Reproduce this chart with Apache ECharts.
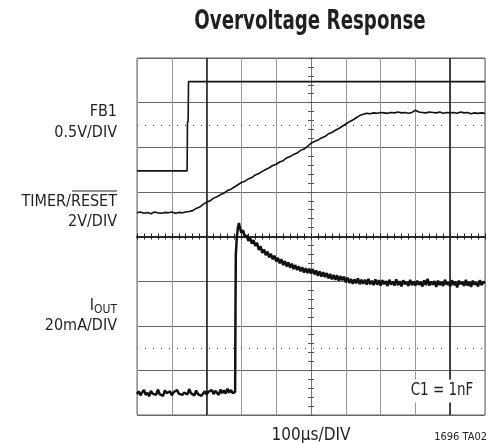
<!DOCTYPE html>
<html>
<head>
<meta charset="utf-8">
<script src="https://cdn.jsdelivr.net/npm/echarts@6/dist/echarts.min.js"></script>
<style>
html,body{margin:0;padding:0;background:#fff;}
#c{width:493px;height:443px;}
</style>
</head>
<body>
<div id="c"></div>
<script>
// Horizontal: microseconds (100us/DIV, 10 divisions). Vertical: screen divisions (0..8).
var xTicks = [0, 100, 200, 300, 400, 500, 600, 700, 800, 900, 1000];
var yTicks = [0, 1, 2, 3, 4, 5, 6, 7, 8];
var cursorX = [200, 900];
var dottedRefY = [6.5, 1.5];

// FB1 trace (0.5V/DIV): [time us, div]
var fb1 = [[0, 5.47], [144, 5.47], [145, 6.55], [147, 6.6], [148, 7.47], [300, 7.47], [301, 7.5], [302, 7.47], [800, 7.47], [801, 7.5], [802, 7.47], [1000, 7.47]];

// TIMER/RESET trace (2V/DIV) sampled every 10us from 0 to 1000
var timerStep = 10;
var timer = [
  4.53,4.55,4.52,4.54,4.51,4.55,4.53,4.52,4.54,4.53,4.55,4.52,4.54,4.53,4.55,4.56,
  4.58,4.63,4.66,4.72,4.77,4.80,4.86,4.89,4.94,4.97,5.03,5.06,5.11,5.16,5.21,5.24,5.29,5.32,5.38,5.41,
  5.46,5.50,5.54,5.59,5.62,5.67,5.70,5.76,5.79,5.84,5.87,5.93,5.96,6.02,6.09,6.13,6.16,6.21,6.24,6.30,
  6.33,6.38,6.42,6.47,6.52,6.57,6.61,6.66,6.71,
  6.74,6.76,6.75,6.77,6.76,6.78,6.77,6.76,6.78,6.77,6.79,6.77,6.78,6.76,6.78,6.83,6.79,6.78,6.77,6.79,
  6.78,6.77,6.79,6.76,6.78,6.77,6.78,6.76,6.79,6.77,6.78,6.75,6.77,6.76,6.77,6.76
];

// IOUT trace (20mA/DIV)
var ioutStep = 5;
var ioutBaseStart = 0;     // 0..280us
var ioutBase = [
  0.47,0.53,0.44,0.51,0.56,0.45,0.50,0.42,0.54,0.48,
  0.52,0.45,0.57,0.47,0.50,0.43,0.55,0.49,0.46,0.53,
  0.44,0.51,0.47,0.56,0.48,0.52,0.45,0.50,0.54,0.46,
  0.58,0.49,0.52,0.44,0.55,0.47,0.51,0.43,0.48,0.53,
  0.46,0.52,0.49,0.56,0.47,0.54,0.50,0.45,0.57,0.49,
  0.55,0.48,0.59,0.50,0.56,0.49,0.53
];
var ioutRise = [[282, 0.52], [283, 2.4], [284, 3.6], [287, 4.0], [290, 4.2], [293, 4.3]];
var ioutDecayStart = 295; // 295..1000us
var ioutDecay = [
  4.22,4.08,4.14,3.98,4.03,3.90,3.97,3.84,3.92,3.79,3.86,
  3.70,3.78,3.63,3.71,3.58,3.66,3.53,3.61,3.49,3.57,
  3.44,3.52,3.40,3.49,3.36,3.45,3.33,3.42,3.30,3.39,
  3.27,3.36,3.25,3.33,3.22,3.31,3.19,3.29,3.18,3.28,
  3.17,3.27,3.15,3.24,3.12,3.22,3.10,3.20,3.09,3.18,
  3.06,3.16,3.04,3.14,3.03,3.13,3.01,3.11,3.02,3.10,
  2.97,3.08,2.96,3.05,2.94,3.04,2.95,3.06,2.93,3.03,
  2.94,3.03,2.92,3.05,2.93,3.01,2.91,3.04,2.92,3.02,
  2.90,3.02,2.93,3.00,2.89,3.03,2.92,2.99,2.90,3.04,
  2.91,3.00,2.88,3.02,2.93,2.98,2.89,3.03,2.91,2.99,
  2.90,3.01,2.92,2.98,2.88,3.02,2.91,3.05,2.90,2.99,
  2.92,3.00,2.87,3.01,2.91,2.98,2.89,3.03,2.92,2.97,
  2.88,3.02,2.91,2.99,2.86,3.01,2.93,2.98,2.89,3.03,
  2.90,2.98,2.87,3.01,2.92,2.97,2.88,3.02,2.91,2.99,
  2.95
];

var titleText = 'Overvoltage Response';
var xUnitText = '100\u00b5s/DIV';
var noteText = 'C1 = 1nF';
var figId = '1696 TA02';

function sampled(arr, start, step) {
  return arr.map(function (v, i) { return [start + i * step, v]; });
}
var timerData = sampled(timer, 0, timerStep);
var ioutData = sampled(ioutBase, ioutBaseStart, ioutStep).concat(ioutRise, sampled(ioutDecay, ioutDecayStart, ioutStep));

var FONT = "'DejaVu Sans Condensed','Liberation Sans Narrow','Liberation Sans',sans-serif";
var INK = '#231f20';
var chart = echarts.init(document.getElementById('c'), null, {renderer: 'canvas'});

var gridL = 137, gridT = 58, gridW = 348, gridH = 357;

function tickAxis(dim, inside) {
  var isX = dim === 'x';
  return {
    type: 'value',
    min: isX ? -500 : -4,
    max: isX ? 500 : 4,
    interval: isX ? 20 : 0.2,
    axisLine: {show: true, onZero: true, onZeroAxisIndex: 1,
      lineStyle: {color: isX ? '#222' : '#777', width: isX ? 1.6 : 1}},
    axisTick: {show: true, inside: inside, length: 3,
      lineStyle: {color: isX ? '#222' : '#555', width: 1}},
    axisLabel: {show: false},
    splitLine: {show: false}
  };
}

function label(text, x, y, size, extra) {
  var o = {type: 'text', x: x, y: y, silent: true,
    style: {text: text, font: size + 'px ' + FONT, fill: INK, textAlign: 'right', textVerticalAlign: 'middle'}};
  if (extra) { for (var k in extra) o[k] = extra[k]; }
  return o;
}

chart.setOption({
  animation: false,
  backgroundColor: '#fff',
  grid: {left: gridL, top: gridT, width: gridW, height: gridH, show: true,
    borderColor: '#666', borderWidth: 1, backgroundColor: 'transparent'},
  xAxis: [
    {type: 'value', min: 0, max: 1000, interval: 100,
      axisLine: {show: false}, axisTick: {show: false}, axisLabel: {show: false},
      splitLine: {show: true, lineStyle: {color: '#999', width: 1}}},
    tickAxis('x', true),
    tickAxis('x', false)
  ],
  yAxis: [
    {type: 'value', min: 0, max: 8, interval: 1,
      axisLine: {show: false}, axisTick: {show: false}, axisLabel: {show: false},
      splitLine: {show: true, lineStyle: {color: '#666', width: 1}}},
    tickAxis('y', true),
    tickAxis('y', false)
  ],
  series: [
    {type: 'line', name: 'FB1', data: fb1, showSymbol: false, symbol: 'none',
      lineStyle: {color: '#111', width: 1.6}, z: 5,
      markLine: {silent: true, symbol: 'none', label: {show: false},
        data: cursorX.map(function (v) { return {xAxis: v}; }),
        lineStyle: {color: '#222', width: 1.6, type: 'solid'}}},
    {type: 'line', name: 'TIMER', data: timerData, showSymbol: false, symbol: 'none',
      lineStyle: {color: '#111', width: 1.6}, z: 5,
      markLine: {silent: true, symbol: 'none', label: {show: false},
        data: dottedRefY.map(function (v) { return {yAxis: v}; }),
        lineStyle: {color: '#444', width: 1, type: [1, 7]}}},
    {type: 'line', name: 'IOUT', data: ioutData, showSymbol: false, symbol: 'none',
      lineStyle: {color: '#111', width: 2.5}, z: 5}
  ],
  graphic: [
    {type: 'text', x: 310, y: 22, scaleX: 0.78, silent: true,
      style: {text: titleText, font: 'bold 26px ' + FONT, fill: INK, textAlign: 'center', textVerticalAlign: 'middle'}},
    label('FB1', 117, 112, 16),
    label('0.5V/DIV', 117, 133, 16),
    label('TIMER/RESET', 117, 202, 16),
    {type: 'line', silent: true, shape: {x1: 72, y1: 191, x2: 117, y2: 191}, style: {stroke: INK, lineWidth: 1}},
    label('2V/DIV', 117, 222, 16),
    {type: 'text', x: 117, y: 306, silent: true, style: {
      rich: {a: {fontFamily: FONT, fontSize: 16, fill: INK}, b: {fontFamily: FONT, fontSize: 12, fill: INK, padding: [8, 0, 0, 0]}},
      text: '{a|I}{b|OUT}', textAlign: 'right', textVerticalAlign: 'middle'}},
    label('20mA/DIV', 117, 326, 16),
    {type: 'text', x: 408, y: 391, scaleX: 0.88, silent: true, z: 100,
      style: {text: noteText, font: '17px ' + FONT, fill: INK, textAlign: 'left', textVerticalAlign: 'middle',
        backgroundColor: '#fff', padding: [3, 3, 3, 3]}},
    {type: 'text', x: 311, y: 436, silent: true,
      style: {text: xUnitText, font: '17px ' + FONT, fill: INK, textAlign: 'center', textVerticalAlign: 'middle'}},
    label(figId, 487, 437, 11)
  ]
});
</script>
</body>
</html>
